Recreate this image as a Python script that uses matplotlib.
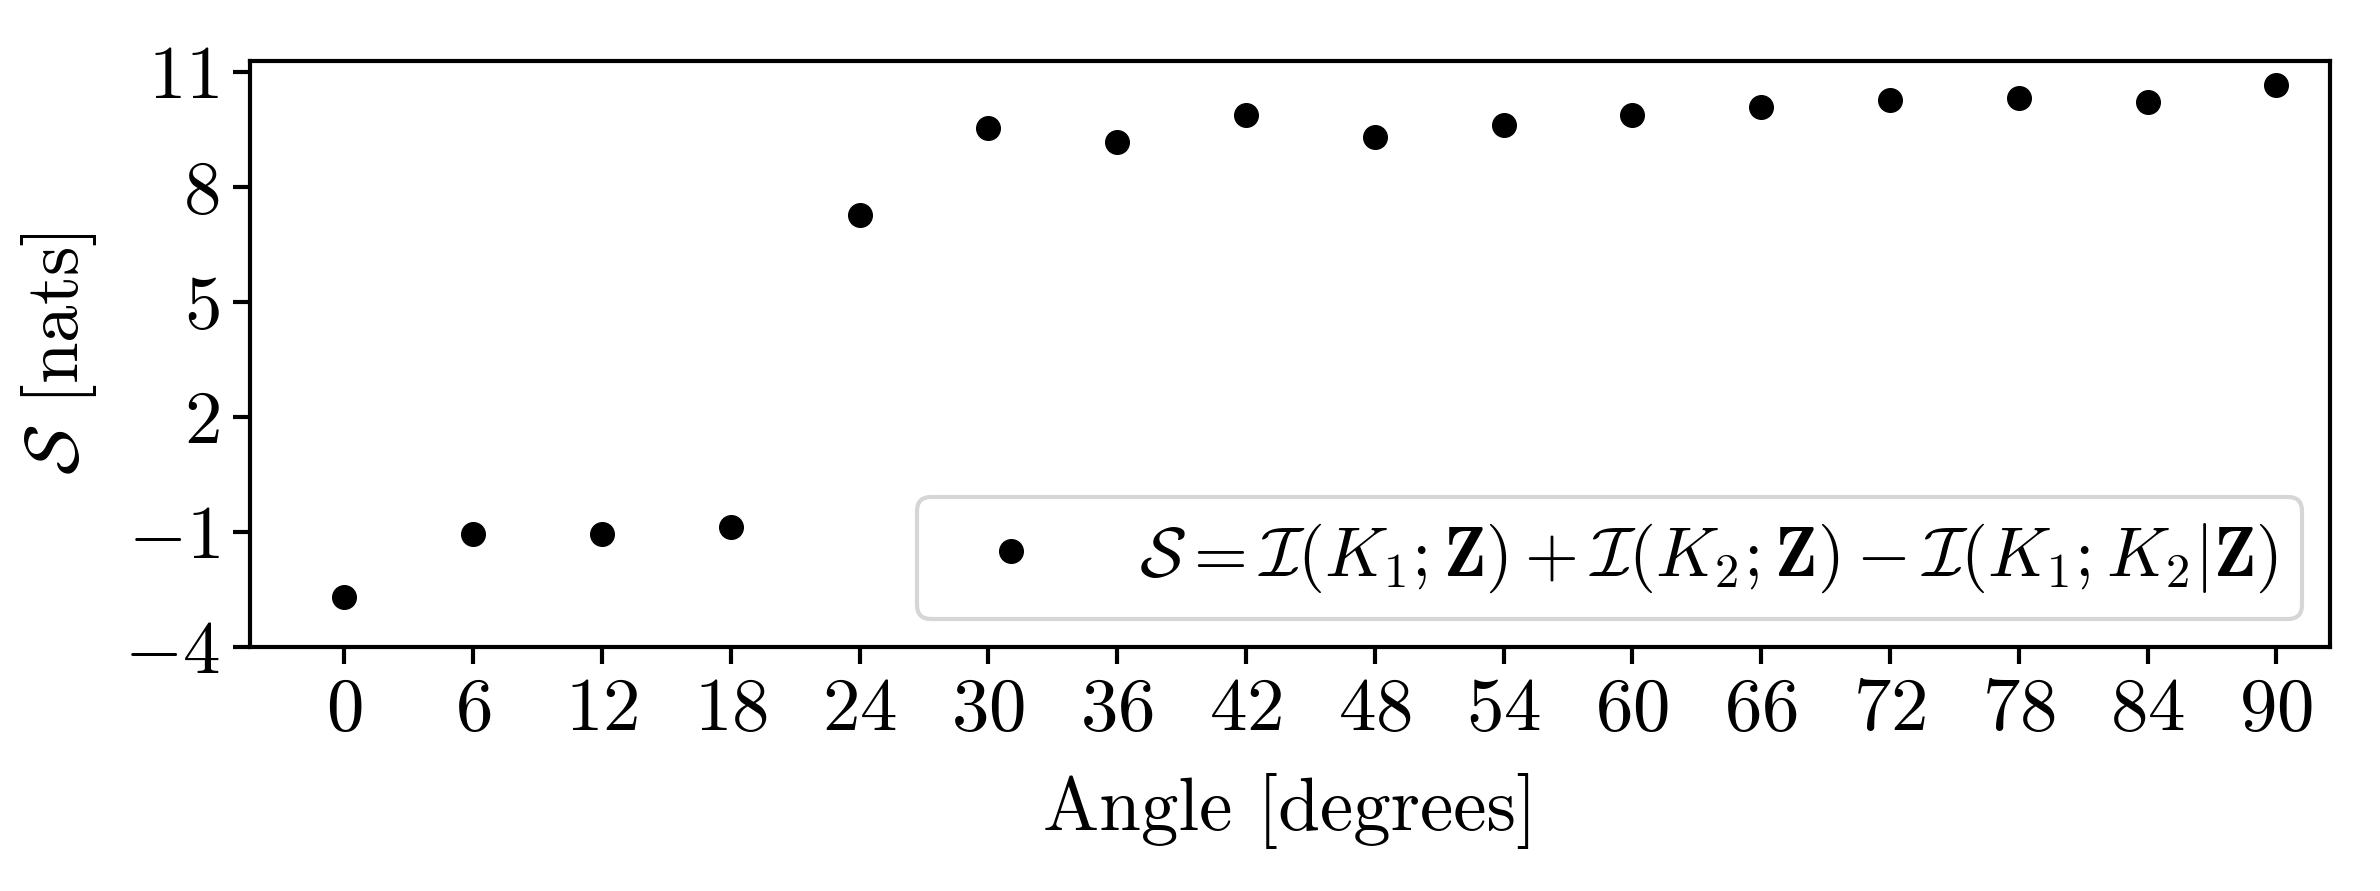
import matplotlib
matplotlib.use("Agg")
import matplotlib.pyplot as plt

plt.rcParams['font.family'] = 'serif'
plt.rcParams['font.serif'] = ['cmr10', 'DejaVu Serif']
plt.rcParams['mathtext.fontset'] = 'cm'
plt.rcParams['axes.formatter.use_mathtext'] = True
plt.rcParams['axes.unicode_minus'] = True

angles = [0, 6, 12, 18, 24, 30, 36, 42, 48, 54, 60, 66, 72, 78, 84, 90]
synergy = [-2.70, -1.05, -1.05, -0.88, 7.26, 9.53, 9.16, 9.86, 9.30, 9.62,
           9.86, 10.07, 10.26, 10.31, 10.22, 10.66]
yticks = [-4, -1, 2, 5, 8, 11]

fig = plt.figure(figsize=(23.8, 8.91), dpi=100)
ax = fig.add_axes([250/2380, 1-647/891, (2330-250)/2380, (647-61)/891])

ax.plot(angles, synergy, linestyle='none', marker='o', color='black', markersize=17,
        label=r'$\mathcal{S} = \mathcal{I}(K_1;\mathbf{Z}) + \mathcal{I}(K_2;\mathbf{Z}) - \mathcal{I}(K_1;K_2|\mathbf{Z})$')

ax.set_xticks(angles)
ax.set_xticklabels([f'${a}$' for a in angles])
ax.set_yticks(yticks)
ax.set_yticklabels([f'${v}$' if v >= 0 else f'$-{-v}$' for v in yticks])
ax.set_xlim(-4.4, 92.5)
ax.set_ylim(-4, 11.28)

ax.tick_params(axis='both', labelsize=54, width=3, length=12, pad=10)
for s in ax.spines.values():
    s.set_linewidth(3)

ax.set_xlabel('Angle [degrees]', fontsize=54, labelpad=20)
ax.set_ylabel(r'$\mathcal{S}$ [nats]', fontsize=54, labelpad=18)

leg = ax.legend(loc='lower right', fontsize=50, frameon=True, fancybox=True,
                borderpad=0.35, handletextpad=0.85, borderaxespad=0.4)
leg.get_frame().set_linewidth(3)

fig.savefig('out.png', dpi=100)
